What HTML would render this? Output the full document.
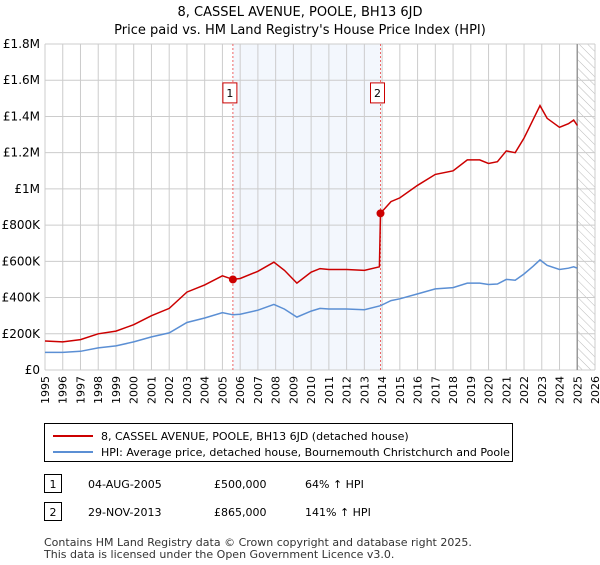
<!DOCTYPE html>
<html><head><meta charset="utf-8"><style>
body{margin:0;background:#fff;font-family:"Liberation Sans","DejaVu Sans",sans-serif;}
svg text{font-family:"DejaVu Sans","Liberation Sans",sans-serif;}
</style></head><body>
<svg width="600" height="560" viewBox="0 0 600 560">
<defs><pattern id="hatch" width="6" height="6" patternUnits="userSpaceOnUse" patternTransform="rotate(-45)"><line x1="0" y1="0" x2="0" y2="6" stroke="#bbb" stroke-width="1"/></pattern></defs>
<text x="300" y="16" text-anchor="middle" font-size="13">8, CASSEL AVENUE, POOLE, BH13 6JD</text>
<text x="300" y="34" text-anchor="middle" font-size="13">Price paid vs. HM Land Registry's House Price Index (HPI)</text>
<g id="plot"></g>
<g>
<rect x="44.5" y="423.5" width="468" height="38" fill="#fff" stroke="#000"/>
<line x1="53" y1="436" x2="93" y2="436" stroke="#cc0000" stroke-width="2"/>
<text x="101" y="440" font-size="11">8, CASSEL AVENUE, POOLE, BH13 6JD (detached house)</text>
<line x1="53" y1="452" x2="93" y2="452" stroke="#5b8fd4" stroke-width="2"/>
<text x="101" y="456" font-size="11">HPI: Average price, detached house, Bournemouth Christchurch and Poole</text>
</g>
<g>
<rect x="44.5" y="474.5" width="17" height="18" fill="#fff" stroke="#000"/><text x="53" y="488" text-anchor="middle" font-size="11">1</text>
<text x="88" y="488" font-size="11">04-AUG-2005</text><text x="214" y="488" font-size="11">£500,000</text><text x="305" y="488" font-size="11">64% ↑ HPI</text>
<rect x="44.5" y="502.5" width="17" height="18" fill="#fff" stroke="#000"/><text x="53" y="516" text-anchor="middle" font-size="11">2</text>
<text x="88" y="516" font-size="11">29-NOV-2013</text><text x="214" y="516" font-size="11">£865,000</text><text x="305" y="516" font-size="11">141% ↑ HPI</text>
</g>
<text x="44" y="546" font-size="11" fill="#333">Contains HM Land Registry data © Crown copyright and database right 2025.</text>
<text x="44" y="558" font-size="11" fill="#333">This data is licensed under the Open Government Licence v3.0.</text>
</svg>
<script>
const yTicks=[0,200,400,600,800,1000,1200,1400,1600,1800];
const yTickLabels=["£0","£200K","£400K","£600K","£800K","£1M","£1.2M","£1.4M","£1.6M","£1.8M"];
const years=[1995,1996,1997,1998,1999,2000,2001,2002,2003,2004,2005,2006,2007,2008,2009,2010,2011,2012,2013,2014,2015,2016,2017,2018,2019,2020,2021,2022,2023,2024,2025,2026];
const sales=[{t:2005.59,v:500,label:"1"},{t:2013.91,v:865,label:"2"}];
const redT=[1995,1996,1997,1998,1999,2000,2001,2002,2003,2004,2005,2005.59,2006,2007,2007.9,2008.5,2009.2,2010,2010.5,2011,2012,2013,2013.85,2013.91,2014.5,2015,2016,2017,2018,2018.8,2019.5,2020,2020.5,2021,2021.5,2022,2022.5,2022.9,2023.3,2024,2024.5,2024.8,2025];
const redV=[160,155,168,200,215,250,300,340,430,470,520,500,505,545,595,550,480,540,560,555,555,550,570,865,930,950,1020,1080,1100,1160,1160,1140,1150,1210,1200,1280,1380,1460,1390,1340,1360,1380,1350];
const blueT=redT.filter((t,i)=>i!==22);
const blueV=[97,97,103,122,133,155,183,205,262,287,317,305,308,330,362,336,292,325,340,337,337,333,355,383,393,420,448,455,480,480,472,475,500,496,530,572,608,578,555,562,570,562];
const X=t=>45+(t-1995)*(550/31), Y=v=>370-v*(326/1800);
const NS="http://www.w3.org/2000/svg",g=document.getElementById('plot');
function mk(tag,a,p){const e=document.createElementNS(NS,tag);for(const k in a)e.setAttribute(k,a[k]);(p||g).appendChild(e);return e;}
let e=mk('rect',{x:X(sales[0].t),y:Y(1800),width:X(sales[1].t)-X(sales[0].t),height:Y(0)-Y(1800),fill:'#eef3fc',opacity:0.7});


e=mk('rect',{x:X(2025),y:Y(1800),width:X(2026)-X(2025),height:Y(0)-Y(1800),fill:'url(#hatch)'});


years.forEach(y=>{const l=mk('line',{x1:X(y),x2:X(y),y1:Y(0),y2:Y(1800),stroke:'#ccc'});


const t=mk('text',{x:0,y:0,'font-size':11,'text-anchor':'end',transform:`translate(${X(y)+4},${Y(0)+6}) rotate(-90)`});t.textContent=y;

});
yTicks.forEach((v,i)=>{const l=mk('line',{x1:X(1995),x2:X(2026),y1:Y(v),y2:Y(v),stroke:'#ccc'});


const t=mk('text',{x:40,y:Y(v)+4,'font-size':12,'text-anchor':'end'});t.textContent=yTickLabels[i];

});
e=mk('line',{x1:X(2025),x2:X(2025),y1:Y(0),y2:Y(1800),stroke:'#999','stroke-width':1.5});


sales.forEach(s=>{const l=mk('line',{x1:X(s.t),x2:X(s.t),y1:Y(0),y2:Y(1800),stroke:'#e66','stroke-dasharray':'2,2'});


const bx=mk('rect',{x:X(s.t)-10,y:Y(1530)-10,width:14,height:20,fill:'#fff',stroke:'#cc0000'});


const t=mk('text',{x:X(s.t)-3,y:Y(1530)+4,'font-size':11,'text-anchor':'middle'});t.textContent=s.label;

});
const pts=(T,V)=>T.map((t,i)=>X(t).toFixed(1)+','+Y(V[i]).toFixed(1)).join(' ');
e=mk('polyline',{points:pts(blueT,blueV),fill:'none',stroke:'#5b8fd4','stroke-width':1.5});


e=mk('polyline',{points:pts(redT,redV),fill:'none',stroke:'#cc0000','stroke-width':1.5});


sales.forEach(s=>{const c=mk('circle',{cx:X(s.t),cy:Y(s.v),r:4,fill:'#cc0000'});

});
</script>
</body></html>
